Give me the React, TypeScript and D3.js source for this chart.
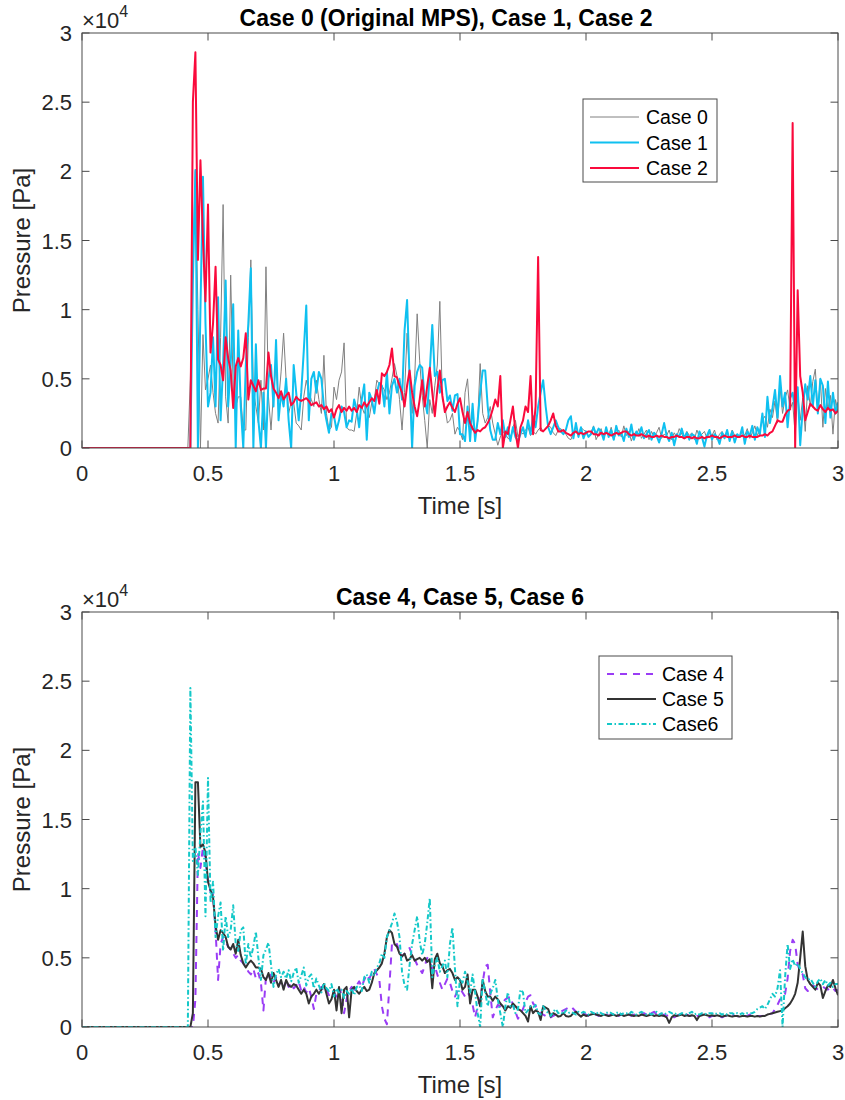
import React from "react";
import * as d3 from "d3";

// Sampled pressure histories, in kPa, every T_STEP seconds starting at T_START.
// Each curve is 0 from t = 0 up to T_START.
const T_START = 0.4;
const T_STEP = 0.01;

const case0 = [
  0, 0, 0, 5, 14, 20, 10, 0, 8.2, 4.2,
  5, 6, 4, 2.5, 1.8, 8, 17.6, 3.7, 1.8, 12.5,
  4.2, 3.0, 3.7, 3.7, 1.3, 1.3, 8, 13.6, 4.2, 3,
  1.8, 4.9, 1.3, 13.1, 3.7, 1.3, 4, 6, 3.3, 5.5,
  8.3, 4.9, 2.5, 3.3, 3.3, 1.8, 1.6, 1.3, 3.7, 4.9,
  4.0, 3.5, 3.0, 4.9, 3.5, 2.5, 6.7, 2.5, 1.3, 1.5,
  4.4, 3.5, 4.9, 5.5, 7.6, 1.5, 1.3, 1.3, 1.2, 2.5,
  4.4, 3, 2.5, 3, 2.2, 3.3, 3.5, 4.9, 4.6, 4.5,
  4.2, 3.5, 4.0, 5.0, 6.1, 5.2, 3.5, 1.3, 4.0, 8.3,
  5.5, 2.5, 5, 9.7, 6.3, 3.8, 2.0, 0, 3.5, 2.5,
  4.5, 6.0, 10.6, 3.5, 3.0, 1.8, 2.0, 2.5, 1.0, 1.5,
  1.2, 0.6, 4.0, 5.0, 2.0, 1.5, 1.0, 1.9, 6.1, 2.5,
  1.8, 2.2, 3.0, 1.8, 1.0, 0.2, 0.8, 1.2, 1.0, 0.7,
  0.6, 1.5, 2.0, 0.8, 1.2, 1.0, 1.3, 1.5, 0.9, 1.2,
  1.0, 1.3, 1.5, 1.2, 1.4, 1.6, 1.5, 1.1, 0.9, 1.3,
  1.4, 1.2, 1.0, 0.7, 0.6, 1.1, 1.2, 0.9, 1.5, 1.3,
  1.2, 0.8, 1.1, 1.6, 0.6, 1.0, 1.4, 0.7, 1.2, 0.9,
  1.5, 0.6, 1.1, 1.3, 0.8, 1.6, 0.9, 1.2, 0.5, 1.1,
  0.9, 1.4, 0.7, 1.0, 1.3, 0.6, 1.2, 0.8, 1.1, 1.5,
  0.7, 1.0, 0.9, 1.3, 0.6, 1.1, 0.8, 1.4, 1.0, 0.7,
  1.2, 0.9, 1.1, 0.6, 1.3, 0.8, 1.0, 1.2, 0.7, 1.1,
  0.9, 1.3, 0.6, 1.0, 1.2, 0.8, 1.1, 0.7, 1.3, 0.9,
  1.0, 0.8, 1.2, 0.9, 1.4, 0.7, 1.1, 1.6, 0.9, 1.3,
  2.0, 2.3, 1.5, 2.8, 2.2, 3.4, 1.8, 4.4, 2.5, 3.6,
  4.2, 2.8, 3.3, 1.0, 4.0, 2.0, 3.6, 1.2, 4.5, 3.0,
  4.8, 5.7, 2.6, 5.0, 1.5, 4.3, 2.8, 3.8, 1.0, 3.5,
  2.6,
];

const case1 = [
  0, 0, 0, 0, 12, 20.1, 0, 10, 19.6, 9,
  3, 4, 8, 3, 10.9, 2, 6, 12.1, 3, 6,
  10.4, 0, 8.5, 3, 0, 6, 9, 13, 0, 7.5,
  2, 0, 4, 0, 5, 6, 3, 7.8, 2, 4,
  3, 5, 2, 0, 6, 4, 2, 4, 7, 10.3,
  2, 5, 5.5, 4, 5.5, 5, 3, 2, 1.1, 2.5,
  2.3, 1.3, 2, 3, 2.6, 1.5, 2, 1.9, 3.5, 2.8,
  1.5, 3.5, 4.6, 0.6, 4, 3.5, 2.5, 4, 4.7, 4.5,
  3, 5.5, 2.5, 4.5, 5, 4, 5, 3.5, 8.5, 10.7,
  5, 0, 4.5, 5.5, 6, 5.8, 3.5, 2.5, 5.5, 8.9,
  5.2, 5.5, 4, 4.9, 5, 3.4, 3.8, 2.7, 3.8, 3.9,
  1, 1, 0.5, 3, 0.5, 3.2, 0.5, 2, 4, 5.6,
  5.6, 3, 1.3, 0.6, 0.6, 1.8, 1, 2, 0.8, 1.5,
  0.5, 1.5, 0.8, 0.5, 1, 1.5, 0.8, 2, 1, 2.3,
  1.5, 3, 4, 4.9, 3, 1.5, 1, 1.5, 2, 1.5,
  1.2, 1, 1.3, 2, 2.3, 0.7, 1.8, 0.8, 1.5, 0.7,
  1.2, 0.8, 1, 1.5, 1, 1.4, 1.2, 0.6, 1.5, 0.8,
  1.3, 0.6, 1.6, 0.9, 1.1, 0.5, 1.4, 0.8, 1.7, 0.6,
  1.2, 0.9, 1.5, 0.7, 1.0, 1.3, 0.6, 1.1, 0.9, 0.4,
  1.0, 1.8, 0.9, 0.5, 1.1, 0.2, 1.0, 0.8, 1.4, 0.7,
  1.1, 0.6, 1.0, 0.9, 0.3, 1.2, 0.8, 0.1, 0.9, 1.3,
  0.6, 1.0, 0.8, 0.3, 1.1, 0.7, 1.3, 0.5, 1.2, 0.4,
  1.0, 0.8, 1.5, 0.3, 1.2, 0.9, 1.6, 0.6, 1.5, 1.0,
  2.5, 0.8, 3.7, 1.8, 2.9, 4.2, 2.2, 5.2, 3.0, 4.0,
  1.5, 3.6, 4.0, 2.6, 4.4, 0.2, 2.8, 4.6, 3.5, 5.2,
  3.0, 4.9, 2.5, 5.0, 4.5, 1.8, 4.8, 2.2, 4.0, 2.5,
  3.3,
];

const case2 = [
  0, 0, 0, 0, 25, 28.6, 13.6, 20.8, 15, 10.6,
  17.6, 6.9, 9, 13.1, 6.4, 6, 4.9, 8.0, 6.5, 5.6,
  2.9, 5.9, 6.5, 5.9, 6.5, 8.3, 3.5, 4.9, 4.5, 4.1,
  4.9, 4.2, 4.3, 4.3, 6.9, 5.2, 4.3, 4.0, 3.6, 4.1,
  3.5, 3.8, 4.0, 3.1, 3.3, 3.7, 3.5, 3.4, 3.5, 3.6,
  3.4, 3.1, 3.2, 3.3, 3.0, 3.1, 2.8, 3.0, 2.6, 2.8,
  2.2, 2.8, 3.1, 2.6, 2.9, 2.7, 3.0, 2.7, 2.9, 2.6,
  3.1, 2.9, 3.3, 3.0, 3.3, 3.6, 3.4, 4.2, 3.2, 5.4,
  5.2, 5.5, 6.0, 7.2, 5.2, 5.1, 4.5, 4.0, 3.0, 4.5,
  5.6, 4.0, 3.0, 2.3, 3.5, 4.9, 3.0, 4.5, 5.8, 4.0,
  2.3, 4.2, 5.6, 3.8, 2.6, 3.0, 3.3, 2.9, 2.6, 3.2,
  3.6, 2.6, 1.8, 2.6, 1.8, 1.4, 1.1, 1.3, 1.2, 1.4,
  1.5, 1.8, 2.2, 2.8, 3.5, 3.0, 5.2, 0, 1.2, 1.0,
  2.0, 3.0, 1.2, 0, 1.5, 2.0, 3.0, 2.6, 5.2, 1.0,
  3.0, 13.8, 1.3, 1.2, 1.4, 1.6, 2.0, 2.5, 1.6, 1.2,
  1.2, 1.3, 1.1, 1.0, 0.9, 1.1, 1.2, 1.0, 1.1, 1.0,
  1.1, 1.2, 1.2, 1.0, 1.0, 0.9, 1.1, 1.0, 1.1, 1.0,
  0.9, 1.0, 1.1, 1.0, 1.1, 1.2, 1.2, 1.0, 0.9, 1.0,
  0.9, 0.9, 1.0, 0.9, 0.8, 0.9, 0.8, 0.8, 0.9, 0.8,
  0.9, 0.8, 0.8, 0.7, 0.8, 0.8, 0.9, 0.8, 0.8, 0.7,
  0.8, 0.8, 0.7, 0.8, 0.7, 0.7, 0.8, 0.7, 0.8, 0.8,
  0.9, 0.8, 0.8, 0.7, 0.8, 0.9, 0.8, 0.8, 0.8, 0.9,
  0.8, 0.8, 0.9, 0.8, 0.8, 0.9, 0.8, 0.8, 0.8, 0.9,
  0.9, 1.0, 0.9, 1.1, 1.2, 1.6, 2.0, 1.9, 1.9, 2.4,
  2.7, 2.8, 23.5, 0, 11.4, 5.2, 4.0, 2.0, 2.6, 3.2,
  3.0, 2.8, 2.7, 3.1, 2.8, 2.6, 2.9, 2.7, 2.8, 2.5,
  2.7,
];

const case4 = [
  0, 0, 0, 0, 0, 2, 12.6, 11.5, 13, 12,
  10.5, 9.8, 9.6, 7.0, 3.4, 6.0, 6.5, 6.2, 5.8, 5.6,
  5.3, 5.0, 5.2, 4.8, 4.6, 4.4, 4.0, 3.8, 4.2, 3.5,
  3.9, 3.2, 1.2, 3.6, 3.4, 3.8, 3.2, 3.6, 3.0, 3.3,
  2.8, 3.4, 2.9, 3.2, 2.8, 3.0, 3.3, 2.6, 2.9, 2.5,
  2.8, 2.2, 1.3, 2.4, 2.6, 2.9, 2.5, 2.7, 2.3, 2.6,
  2.5, 2.2, 2.8, 2.4, 1.0, 2.0, 2.6, 2.9, 2.7, 3.0,
  3.3, 2.9, 3.4, 3.8, 3.5, 3.9, 4.2, 3.8, 3.4, 1.5,
  0.6, 0.2, 3.0, 6.0, 5.8, 6.0, 5.4, 5.1, 5.3, 5.6,
  5.7, 5.2, 4.9, 4.5, 4.2, 3.9, 4.4, 5.0, 4.7, 4.2,
  4.4, 3.8, 3.2, 2.7, 3.1, 3.5, 3.2, 2.6, 2.2, 2.6,
  2.8, 2.5, 2.2, 2.5, 2.2, 1.6, 0.7, 1.5, 2.0, 3.2,
  4.4, 4.5, 2.5, 0.7, 1.2, 1.6, 1.5, 1.8, 2.0, 2.1,
  2.2, 1.6, 1.1, 0.6, 0.9, 1.3, 1.8, 2.2, 2.3, 1.7,
  1.5, 1.2, 1.0, 0.9, 0.8, 0.6, 0.7, 0.8, 0.9, 1.0,
  1.1, 1.2, 1.3, 1.4, 1.5, 1.3, 1.1, 1.0, 0.9, 1.0,
  0.9, 0.8, 0.9, 1.0, 0.9, 0.8, 0.9, 1.0, 0.9, 0.8,
  0.9, 1.0, 0.9, 0.8, 0.9, 1.0, 0.9, 0.9, 0.8, 0.9,
  0.9, 0.8, 0.9, 1.0, 0.9, 0.8, 1.0, 1.1, 0.9, 0.8,
  0.8, 0.9, 0.8, 0.9, 0.8, 0.7, 0.8, 0.9, 0.8, 0.8,
  0.9, 0.8, 0.8, 0.7, 0.8, 0.8, 0.9, 0.8, 0.8, 0.7,
  0.8, 0.8, 0.9, 0.8, 0.7, 0.8, 0.8, 0.8, 0.9, 0.8,
  0.8, 0.7, 0.8, 0.8, 0.8, 0.9, 0.8, 0.8, 0.8, 0.8,
  0.8, 0.85, 0.9, 0.95, 1.0, 1.3, 1.6, 2.0, 2.1, 2.4,
  3.5, 5.5, 6.3, 6.0, 4.5, 4.0, 3.8, 2.8, 2.6, 2.8,
  3.0, 2.9, 2.7, 2.8, 2.9, 2.8, 2.7, 2.9, 2.8, 2.6,
  2.7,
];

const case5 = [
  0, 0, 0, 0, 1.0, 17.7, 17.7, 13.0, 13.2, 12.6,
  10.5, 9.9, 9.4, 7.3, 6.3, 7.0, 6.8, 6.5, 5.8, 5.6,
  6.0, 5.3, 6.3, 5.2, 4.6, 4.3, 4.6, 4.8, 4.6, 4.3,
  4.3, 4.2, 3.6, 3.4, 3.9, 3.2, 3.9, 3.4, 2.9, 3.4,
  2.7, 3.4, 3.0, 2.9, 3.1, 3.0, 2.7, 2.4, 2.7, 2.4,
  1.7, 2.2, 2.4, 2.7, 2.4, 2.7, 3.1, 2.4, 1.7, 2.0,
  2.7, 1.2, 2.9, 1.0, 2.7, 2.9, 0.7, 2.7, 2.9, 2.6,
  2.4, 2.7, 2.9, 2.6, 2.7, 3.2, 3.9, 4.1, 4.3, 4.6,
  5.3, 6.5, 7.0, 6.8, 6.0, 5.8, 5.3, 5.1, 5.3, 4.8,
  4.9, 5.2, 4.8, 4.9, 5.0, 4.8, 5.0, 4.7, 4.9, 2.8,
  4.9, 5.3, 4.6, 4.4, 3.9, 4.1, 4.2, 3.9, 3.4, 3.6,
  3.4, 2.7, 2.9, 3.8, 1.7, 2.7, 2.7, 2.2, 1.5, 3.4,
  2.6, 2.2, 2.2, 1.9, 2.2, 2.0, 1.7, 1.5, 1.2, 1.5,
  1.4, 1.7, 1.5, 1.3, 1.2, 1.0, 0.8, 0.4, 1.5, 1.0,
  1.2, 1.1, 0.5, 1.5, 1.4, 1.3, 0.75, 1.0, 0.9, 0.75,
  0.8, 1.0, 0.8, 0.75, 0.8, 1.0, 1.1, 0.9, 0.75, 0.9,
  0.8, 0.85, 0.9, 0.95, 0.9, 0.85, 0.8, 0.9, 0.85, 0.8,
  0.85, 0.9, 0.8, 0.85, 0.9, 0.8, 0.85, 0.9, 0.85, 0.8,
  0.85, 0.8, 0.9, 0.85, 0.8, 0.85, 0.9, 0.8, 0.85, 0.8,
  0.85, 0.8, 0.7, 0.3, 0.7, 0.85, 0.8, 0.85, 0.9, 0.8,
  0.85, 0.8, 0.85, 0.8, 0.5, 0.8, 0.85, 0.9, 0.85, 0.8,
  0.85, 0.8, 0.85, 0.8, 0.75, 0.8, 0.85, 0.8, 0.75, 0.8,
  0.8, 0.75, 0.8, 0.8, 0.75, 0.8, 0.8, 0.75, 0.8, 0.75,
  0.8, 0.8, 0.9, 0.95, 1.0, 1.05, 1.1, 1.15, 1.2, 1.35,
  1.5, 1.7, 2.0, 2.4, 3.2, 5.0, 6.9, 4.4, 3.4, 3.1,
  2.9, 2.7, 3.2, 3.0, 2.1, 2.6, 3.0, 2.9, 3.4, 2.8,
  2.3,
];

const case6 = [
  0, 0, 0, 24.5, 12, 13, 11, 14, 16.3, 8,
  18.0, 9, 10.5, 6.5, 8.0, 9.0, 5.5, 8.0, 6.5, 7.0,
  8.8, 6.0, 5.5, 7.0, 7.2, 4.5, 6.0, 5.0, 5.8, 6.9,
  5.0, 3.4, 5.2, 5.6, 6.1, 4.5, 2.9, 3.8, 4.2, 3.6,
  4.0, 3.5, 4.1, 3.3, 3.9, 4.3, 3.2, 3.7, 4.3, 3.0,
  3.6, 3.8, 2.8, 3.5, 3.0, 2.5, 3.2, 2.8, 2.6, 3.1,
  2.2, 2.8, 2.5, 2.7, 2.1, 2.6, 2.4, 2.8, 2.3, 2.9,
  3.0, 2.6, 3.6, 3.8, 3.2, 4.0, 3.7, 4.3, 4.6, 5.3,
  5.0, 6.5, 7.0, 7.5, 8.2, 7.6, 6.5, 4.0, 3.0, 2.7,
  4.5, 6.0, 7.0, 8.0, 6.2, 5.2, 6.0, 7.5, 9.3, 3.6,
  4.5, 5.0, 4.0, 4.4, 4.8, 3.6, 6.0, 7.2, 4.2, 1.5,
  3.5, 3.2, 4.0, 3.3, 2.5, 3.8, 2.5, 1.0, 0, 3.5,
  2.5, 1.5, 2.4, 2.8, 3.4, 2.0, 1.0, 0, 1.5, 2.5,
  1.5, 1.6, 1.0, 1.3, 2.7, 2.5, 1.0, 1.2, 1.5, 1.4,
  1.6, 1.0, 0.9, 1.5, 1.2, 1.0, 0.8, 1.1, 1.3, 1.0,
  1.1, 0.9, 1.2, 1.0, 1.1, 1.0, 0.9, 1.1, 1.0, 1.1,
  1.0, 0.9, 1.1, 1.0, 0.9, 1.1, 1.0, 0.9, 1.0, 1.1,
  1.0, 0.9, 1.0, 1.1, 0.9, 1.0, 1.0, 0.9, 1.1, 1.0,
  0.9, 1.0, 1.1, 1.0, 0.9, 1.0, 0.9, 1.0, 1.1, 0.9,
  1.0, 0.9, 1.0, 1.1, 1.0, 0.9, 1.0, 0.9, 1.0, 1.0,
  0.9, 1.0, 1.1, 0.9, 1.0, 0.9, 1.0, 1.0, 0.9, 1.0,
  1.0, 0.9, 1.0, 1.0, 0.9, 1.0, 0.9, 1.0, 1.0, 0.9,
  1.0, 0.9, 1.0, 0.9, 1.0, 1.0, 1.0, 1.1, 1.3, 1.4,
  1.5, 1.3, 1.6, 2.0, 2.4, 2.2, 2.8, 4.1, 0, 3.6,
  6.0, 4.2, 4.9, 4.4, 4.6, 4.2, 3.9, 3.6, 3.4, 3.5,
  3.2, 2.9, 3.3, 3.5, 3.1, 3.4, 3.0, 3.2, 2.9, 3.1,
  3.1,
];

const X_TICKS = [0, 0.5, 1, 1.5, 2, 2.5, 3];
const Y_TICKS = [0, 5, 10, 15, 20, 25, 30]; // kPa, labelled in units of 10^4 Pa

const TOP_TITLE = "Case 0 (Original MPS), Case 1, Case 2";
const BOTTOM_TITLE = "Case 4, Case 5, Case 6";

type Series = {
  label: string;
  values: number[];
  color: string;
  width: number;
  dash?: string;
};

const topSeries: Series[] = [
  { label: "Case 0", values: case0, color: "#808080", width: 1 },
  { label: "Case 1", values: case1, color: "#0fc0f0", width: 2 },
  { label: "Case 2", values: case2, color: "#fa0a3c", width: 2 },
];

const bottomSeries: Series[] = [
  { label: "Case 4", values: case4, color: "#9a3cf5", width: 2, dash: "7,6" },
  { label: "Case 5", values: case5, color: "#333333", width: 2 },
  { label: "Case6", values: case6, color: "#14c8c8", width: 2, dash: "5,2.5,1.5,2.5" },
];

const FONT = "'Liberation Sans', Arial, Helvetica, sans-serif";
const INK = "#262626";
const AXIS = "#4a4a4a";

const LEFT = 82;
const RIGHT = 838;
const TICK_LEN = 7.5;

function toPoints(values: number[]): [number, number][] {
  return [[0, 0], ...values.map((v, i) => [T_START + i * T_STEP, v] as [number, number])];
}

type PanelProps = {
  id: string;
  top: number;
  bottom: number;
  title: string;
  titleX: number;
  series: Series[];
  legend: { x: number; y: number; w: number; h: number; rows: number[]; lineX0: number; lineX1: number; textX: number };
};

function Panel({ id, top, bottom, title, titleX, series, legend }: PanelProps) {
  const x = d3.scaleLinear().domain([0, 3]).range([LEFT, RIGHT]);
  const y = d3.scaleLinear().domain([0, 30]).range([bottom, top]);
  const line = d3
    .line<[number, number]>()
    .x((d) => x(d[0]))
    .y((d) => y(d[1]));
  const mid = (LEFT + RIGHT) / 2;
  const fmt = (v: number) => String(v);

  return (
    <g>
      <defs>
        <clipPath id={id}>
          <rect x={LEFT} y={top} width={RIGHT - LEFT} height={bottom - top} />
        </clipPath>
      </defs>

      {/* data */}
      <g clipPath={`url(#${id})`}>
        {series.map((s) => (
          <path
            key={s.label}
            d={line(toPoints(s.values)) || ""}
            fill="none"
            stroke={s.color}
            strokeWidth={s.width}
            strokeDasharray={s.dash}
            strokeLinejoin="round"
          />
        ))}
      </g>

      {/* axes box and ticks */}
      <rect x={LEFT} y={top} width={RIGHT - LEFT} height={bottom - top} fill="none" stroke={AXIS} strokeWidth={1} />
      {X_TICKS.map((t) => (
        <g key={`xt${t}`}>
          <line x1={x(t)} x2={x(t)} y1={bottom} y2={bottom - TICK_LEN} stroke={AXIS} strokeWidth={1} />
          <line x1={x(t)} x2={x(t)} y1={top} y2={top + TICK_LEN} stroke={AXIS} strokeWidth={1} />
          <text x={x(t)} y={bottom + 33} textAnchor="middle" fontSize={22} fill={INK} fontFamily={FONT}>
            {fmt(t)}
          </text>
        </g>
      ))}
      {Y_TICKS.map((v) => (
        <g key={`yt${v}`}>
          <line x1={LEFT} x2={LEFT + TICK_LEN} y1={y(v)} y2={y(v)} stroke={AXIS} strokeWidth={1} />
          <line x1={RIGHT} x2={RIGHT - TICK_LEN} y1={y(v)} y2={y(v)} stroke={AXIS} strokeWidth={1} />
          <text x={72} y={y(v) + 8} textAnchor="end" fontSize={22} fill={INK} fontFamily={FONT}>
            {fmt(v / 10)}
          </text>
        </g>
      ))}

      {/* exponent */}
      <text x={LEFT} y={top - 5} fontSize={22} fill={INK} fontFamily={FONT}>
        ×10
        <tspan dy={-11} fontSize={16}>
          4
        </tspan>
      </text>

      {/* title and labels */}
      <text x={titleX} y={top - 7} textAnchor="middle" fontSize={23} fontWeight="bold" fill="#000" fontFamily={FONT}>
        {title}
      </text>
      <text x={mid} y={bottom + 66} textAnchor="middle" fontSize={24} fill={INK} fontFamily={FONT}>
        Time [s]
      </text>
      <text
        transform={`translate(30,${(top + bottom) / 2}) rotate(-90)`}
        textAnchor="middle"
        fontSize={24}
        fill={INK}
        fontFamily={FONT}
      >
        Pressure [Pa]
      </text>

      {/* legend */}
      <rect x={legend.x} y={legend.y} width={legend.w} height={legend.h} fill="#fff" stroke={AXIS} strokeWidth={1} />
      {series.map((s, i) => (
        <g key={`lg${s.label}`}>
          <line
            x1={legend.lineX0}
            x2={legend.lineX1}
            y1={legend.rows[i]}
            y2={legend.rows[i]}
            stroke={s.color}
            strokeWidth={s.width}
            strokeDasharray={s.dash}
          />
          <text x={legend.textX} y={legend.rows[i] + 7} fontSize={19.5} fill="#000" fontFamily={FONT}>
            {s.label}
          </text>
        </g>
      ))}
    </g>
  );
}

export default function App() {
  return (
    <svg
      width={845}
      height={1100}
      viewBox="0 0 845 1100"
      style={{ position: "absolute", left: 0, top: 0, background: "#fff" }}
    >
      <rect x={0} y={0} width={845} height={1100} fill="#fff" />
      <Panel
        id="clip-top"
        top={33}
        bottom={448}
        title={TOP_TITLE}
        titleX={446}
        series={topSeries}
        legend={{ x: 583, y: 99, w: 134, h: 83, rows: [117, 142.5, 168], lineX0: 590, lineX1: 639, textX: 646 }}
      />
      <Panel
        id="clip-bottom"
        top={612}
        bottom={1027}
        title={BOTTOM_TITLE}
        titleX={460}
        series={bottomSeries}
        legend={{ x: 599, y: 656, w: 133, h: 83, rows: [674, 699, 724], lineX0: 607, lineX1: 656, textX: 662 }}
      />
    </svg>
  );
}
